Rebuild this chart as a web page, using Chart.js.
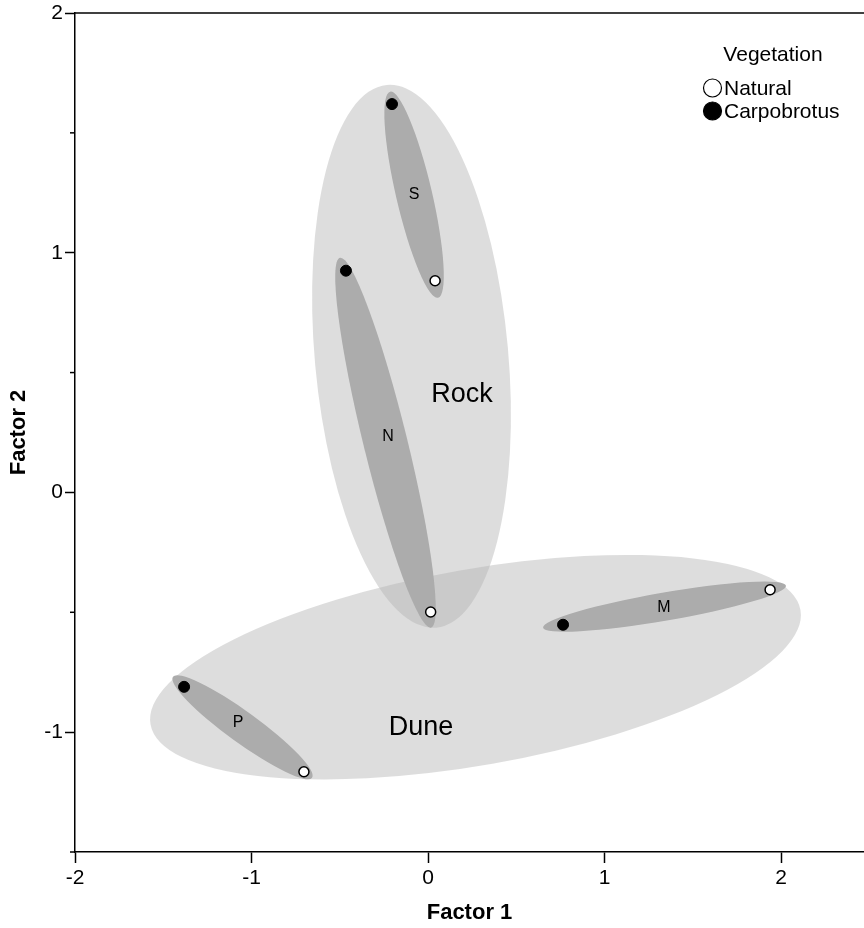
<!DOCTYPE html>
<html>
<head>
<meta charset="utf-8">
<script src="https://cdn.jsdelivr.net/npm/chart.js@4.4.1/dist/chart.umd.min.js"></script>
<style>
  body { margin: 0; background: #fff; }
  canvas { display: block; }
</style>
</head>
<body>
<canvas id="canvas" width="864" height="928"></canvas>
<script>
// sites and their two vegetation scores
let sites = ["S", "N", "M", "P"];
let naturalX = [0.04, 0.015, 1.938, -0.703];
let naturalY = [0.883, -0.499, -0.406, -1.165];
let carpX = [-0.204, -0.465, 0.765, -1.382];
let carpY = [1.62, 0.925, -0.552, -0.811];

// site ellipses: ends of the long axis, width as ratio of length
let siteTip1X = [-0.215, -0.499, 0.652, -1.445];
let siteTip1Y = [1.672, 0.979, -0.564, -0.769];
let siteTip2X = [0.057, 0.017, 2.028, -0.657];
let siteTip2Y = [0.812, -0.564, -0.389, -1.19];
let siteRatio = [0.17, 0.115, 0.114, 0.18];
let siteLabelX = [-0.079, -0.227, 1.337, -1.076];
let siteLabelY = [1.241, 0.232, -0.481, -0.961];

// habitat ellipses
let habitats = ["Rock", "Dune"];
let habTip1X = [-0.233, -1.572];
let habTip1Y = [1.7, -0.968];
let habTip2X = [0.046, 2.11];
let habTip2Y = [-0.564, -0.49];
let habRatio = [0.355, 0.297];
let habLabelX = [0.193, -0.04];
let habLabelY = [0.408, -0.982];

// axes
let xTicks = [-2, -1, 0, 1, 2];
let yTicks = [-1, 0, 1, 2];
let yMinorTicks = [-1.5, -0.5, 0.5, 1.5];

const FONT = "'Liberation Sans', Arial, sans-serif";
Chart.defaults.font.family = FONT;
Chart.defaults.color = "#000";

function ellipse(ctx, xs, ys, x1, y1, x2, y2, ratio) {
  let px1 = xs.getPixelForValue(x1), py1 = ys.getPixelForValue(y1);
  let px2 = xs.getPixelForValue(x2), py2 = ys.getPixelForValue(y2);
  let a = Math.hypot(px2 - px1, py2 - py1) / 2;
  ctx.beginPath();
  ctx.ellipse((px1 + px2) / 2, (py1 + py2) / 2, a, a * ratio,
    Math.atan2(py2 - py1, px2 - px1), 0, Math.PI * 2);
  ctx.fill();
}

const ellipsePlugin = {
  id: "ellipses",
  beforeDatasetsDraw(chart) {
    const ctx = chart.ctx;
    const xs = chart.scales.x, ys = chart.scales.y;
    ctx.save();
    ctx.fillStyle = "rgba(180,180,180,0.45)";
    habitats.forEach((h, i) => {
      ellipse(ctx, xs, ys, habTip1X[i], habTip1Y[i], habTip2X[i], habTip2Y[i], habRatio[i]);
    });
    ctx.fillStyle = "#acacac";
    sites.forEach((s, i) => {
      ellipse(ctx, xs, ys, siteTip1X[i], siteTip1Y[i], siteTip2X[i], siteTip2Y[i], siteRatio[i]);
    });
    ctx.fillStyle = "#000";
    ctx.textAlign = "center";
    ctx.textBaseline = "middle";
    ctx.font = "27px " + FONT;
    habitats.forEach((h, i) => {
      ctx.fillText(h, xs.getPixelForValue(habLabelX[i]), ys.getPixelForValue(habLabelY[i]));
    });
    ctx.font = "16px " + FONT;
    sites.forEach((s, i) => {
      ctx.fillText(s, xs.getPixelForValue(siteLabelX[i]), ys.getPixelForValue(siteLabelY[i]));
    });
    ctx.restore();
  },
  afterDraw(chart) {
    const ctx = chart.ctx;
    const area = chart.chartArea;
    const ys = chart.scales.y;
    ctx.save();
    ctx.strokeStyle = "#000";
    ctx.lineWidth = 1.5;
    // top frame line
    ctx.beginPath();
    ctx.moveTo(area.left, area.top);
    ctx.lineTo(chart.width, area.top);
    ctx.stroke();
    // minor ticks on y
    yMinorTicks.forEach((v) => {
      let py = ys.getPixelForValue(v);
      ctx.beginPath();
      ctx.moveTo(area.left - 5, py);
      ctx.lineTo(area.left, py);
      ctx.stroke();
    });
    // legend
    ctx.fillStyle = "#000";
    ctx.font = "21px " + FONT;
    ctx.textAlign = "center";
    ctx.textBaseline = "middle";
    ctx.fillText("Vegetation", 773, 55);
    ctx.textAlign = "left";
    ctx.lineWidth = 1.2;
    let items = [["Natural", "#fff"], ["Carpobrotus", "#000"]];
    items.forEach((it, i) => {
      let cy = 88 + i * 23;
      ctx.beginPath();
      ctx.arc(712.5, cy, 9, 0, Math.PI * 2);
      ctx.fillStyle = it[1];
      ctx.fill();
      ctx.stroke();
      ctx.fillStyle = "#000";
      ctx.fillText(it[0], 724, cy + 1);
    });
    ctx.restore();
  },
};

const ctx = document.getElementById("canvas").getContext("2d");
const myChart = new Chart(ctx, {
  type: "scatter",
  data: {
    datasets: [
      {
        label: "Natural",
        data: naturalX.map((x, i) => ({ x: x, y: naturalY[i] })),
        backgroundColor: "#fff",
        borderColor: "#000",
        borderWidth: 1.5,
        pointRadius: 5,
      },
      {
        label: "Carpobrotus",
        data: carpX.map((x, i) => ({ x: x, y: carpY[i] })),
        backgroundColor: "#000",
        borderColor: "#000",
        borderWidth: 1,
        pointRadius: 5.5,
      },
    ],
  },
  options: {
    responsive: false,
    animation: false,
    layout: { autoPadding: false, padding: { top: 13, right: 0, left: 0, bottom: 0 } },
    plugins: { legend: { display: false }, tooltip: { enabled: false } },
    scales: {
      x: {
        min: -2,
        max: 2.47,
        afterBuildTicks: (scale) => {
          scale.ticks = xTicks.map((v) => ({ value: v }));
        },
        afterFit: (scale) => {
          scale.height = 76;
          scale.paddingRight = 0;
          scale.paddingLeft = 0;
        },
        grid: { drawOnChartArea: false, tickLength: 11, tickColor: "#000", tickWidth: 1.5 },
        border: { color: "#000", width: 1.5 },
        ticks: { font: { size: 21 }, padding: 3, color: "#000" },
        title: {
          display: true,
          text: "Factor 1",
          font: { size: 22, weight: "bold" },
          padding: { top: 0, bottom: 2 },
          color: "#000",
        },
      },
      y: {
        min: -1.5,
        max: 2,
        afterBuildTicks: (scale) => {
          scale.ticks = yTicks.map((v) => ({ value: v }));
        },
        afterFit: (scale) => {
          scale.width = 75;
          scale.paddingTop = 0;
          scale.paddingBottom = 0;
        },
        grid: { drawOnChartArea: false, tickLength: 10, tickColor: "#000", tickWidth: 1.5 },
        border: { color: "#000", width: 1.5 },
        ticks: { font: { size: 21 }, padding: 2, color: "#000" },
        title: {
          display: true,
          text: "Factor 2",
          font: { size: 22, weight: "bold" },
          padding: { top: 6, bottom: 0 },
          color: "#000",
        },
      },
    },
  },
  plugins: [ellipsePlugin],
});
</script>
</body>
</html>
